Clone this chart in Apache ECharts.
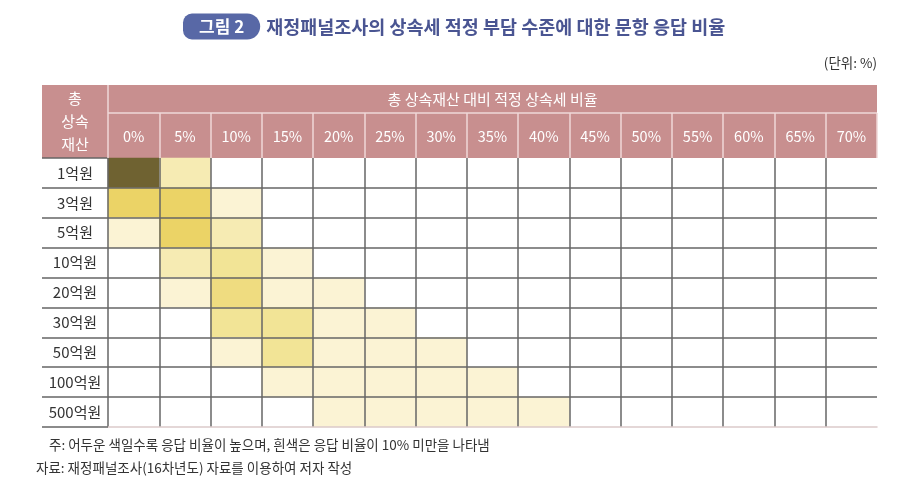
<!DOCTYPE html>
<html><head><meta charset="utf-8">
<script src="https://cdn.jsdelivr.net/npm/echarts@6/dist/echarts.min.js"></script>
<style>html,body{margin:0;padding:0;background:#fff}#c{width:911px;height:481px}</style>
</head><body><div id="c"></div>
<script>
// ---- data ----
const rowLabels = ['1억원','3억원','5억원','10억원','20억원','30억원','50억원','100억원','500억원'];
const colLabels = ['0%','5%','10%','15%','20%','25%','30%','35%','40%','45%','50%','55%','60%','65%','70%'];
// response share (%) per cell; null = under 10% (shown white)
const row1   = [66, 17, null, null, null, null, null, null, null, null, null, null, null, null, null];
const row3   = [33, 34, 12, null, null, null, null, null, null, null, null, null, null, null, null];
const row5   = [12, 33, 17, null, null, null, null, null, null, null, null, null, null, null, null];
const row10  = [null, 17, 24, 12, null, null, null, null, null, null, null, null, null, null, null];
const row20  = [null, 12, 27, 12, 11, null, null, null, null, null, null, null, null, null, null];
const row30  = [null, null, 23, 21, 12, 11, null, null, null, null, null, null, null, null, null];
const row50  = [null, null, 12, 23, 12, 12, 11, null, null, null, null, null, null, null, null];
const row100 = [null, null, null, 13, 12, 12, 11, 11, null, null, null, null, null, null, null];
const row500 = [null, null, null, null, 12, 12, 11, 11, 11, null, null, null, null, null, null];
const shares = [row1, row3, row5, row10, row20, row30, row50, row100, row500];

const FONT = '"Noto Sans CJK KR","Noto Sans",sans-serif';
const W = 911, H = 481;
const L = 108, R = 877, T = 158, B = 427, HT = 85, HMID = 113, LL = 42;

const cells = [];
shares.forEach((row, ri) => row.forEach((v, ci) => { if (v != null) cells.push([ci, ri, v]); }));

const chart = echarts.init(document.getElementById('c'), null, {renderer: 'canvas'});
chart.setOption({
  animation: false,
  backgroundColor: '#fff',
  textStyle: {fontFamily: FONT},
  title: [
    {left: 183, top: 17, padding: 0, text: '{tag|그림 2}{gap|}{main|재정패널조사의 상속세 적정 부담 수준에 대한 문항 응답 비율}',
     textStyle: {rich: {
       tag: {fontFamily: FONT, fontSize: 17, fontWeight: 'bold', color: '#fff', backgroundColor: '#5868a6',
             borderRadius: [9, 13, 13, 9], padding: [5, 16, 4, 16], lineHeight: 19},
       gap: {width: 6},
       main: {fontFamily: FONT, fontSize: 18.5, fontWeight: 'bold', color: '#4a5592'}
     }}},
    {right: 29, top: 51, text: '(단위: %)', textStyle: {fontFamily: FONT, fontSize: 13.5, color: '#333', fontWeight: 'normal'}},
    {left: 44, top: 433, text: '주: 어두운 색일수록 응답 비율이 높으며, 흰색은 응답 비율이 10% 미만을 나타냄',
     textStyle: {fontFamily: FONT, fontSize: 13.5, color: '#333', fontWeight: 'normal'}},
    {left: 31, top: 456, text: '자료: 재정패널조사(16차년도) 자료를 이용하여 저자 작성',
     textStyle: {fontFamily: FONT, fontSize: 13.5, color: '#333', fontWeight: 'normal'}}
  ],
  grid: {left: L, right: W - R, top: T, bottom: H - B},
  xAxis: [
    {type: 'category', position: 'top', data: colLabels, z: 5,
     axisLine: {show: false},
     axisTick: {show: true, length: T - HMID, lineStyle: {color: '#efd8d8', width: 1.5}},
     axisLabel: {color: '#fff', fontSize: 14.5, margin: 14, fontFamily: FONT},
     splitLine: {show: true, showMaxLine: false, lineStyle: {color: '#666', width: 1.5}}},
    {type: 'category', position: 'bottom', data: colLabels, z: 5,
     axisLine: {show: true, lineStyle: {color: '#dccaca', width: 1.5}},
     axisTick: {show: false}, axisLabel: {show: false}, splitLine: {show: false}}
  ],
  yAxis: {type: 'category', inverse: true, data: rowLabels, z: 5,
    axisLine: {show: false},
    axisTick: {show: true, length: L - LL, lineStyle: {color: '#666', width: 1.5}},
    axisLabel: {color: '#333', fontSize: 15, align: 'center', margin: (L - LL) / 2, fontFamily: FONT},
    splitLine: {show: true, showMinLine: false, showMaxLine: false, lineStyle: {color: '#666', width: 1.5}}},
  visualMap: {type: 'piecewise', show: false, dimension: 2, seriesIndex: 0,
    pieces: [
      {gte: 10, lt: 15, color: '#fbf3d4'},
      {gte: 15, lt: 20, color: '#f6ebb3'},
      {gte: 20, lt: 25, color: '#f2e496'},
      {gte: 25, lt: 30, color: '#efdc80'},
      {gte: 30, lt: 45, color: '#ebd366'},
      {gte: 45, color: '#6f6231'}
    ]},
  series: [{type: 'heatmap', xAxisIndex: 0, yAxisIndex: 0, data: cells, emphasis: {disabled: true}}],
  graphic: [
    {type: 'rect', z: 0, shape: {x: LL, y: HT, width: R - LL, height: T - HT}, style: {fill: '#c88f8f'}},
    {type: 'line', z: 1, shape: {x1: L, y1: HMID, x2: R, y2: HMID}, style: {stroke: '#efd8d8', lineWidth: 1.5}},
    {type: 'line', z: 1, shape: {x1: L, y1: HT, x2: L, y2: HMID}, style: {stroke: '#efd8d8', lineWidth: 1.5}},
    {type: 'text', z: 1, x: (L + R) / 2, y: (HT + HMID) / 2,
     style: {text: '총 상속재산 대비 적정 상속세 비율', fill: '#fff', font: '15px ' + FONT, align: 'center', verticalAlign: 'middle'}},
    {type: 'text', z: 1, x: (LL + L) / 2, y: (HT + T) / 2,
     style: {text: '총\n상속\n재산', fill: '#fff', font: '15px ' + FONT, align: 'center', verticalAlign: 'middle', lineHeight: 23}}
  ]
});
</script></body></html>
